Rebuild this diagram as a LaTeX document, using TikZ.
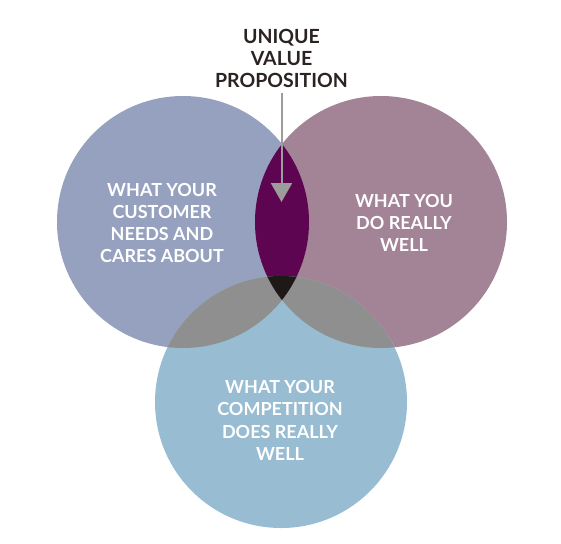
\documentclass[tikz,border=0pt]{standalone}
\usepackage{fontspec}
\newfontfamily\lato{Lato}
\usepackage{tikz}
\usetikzlibrary{arrows.meta}

\definecolor{custblue}{HTML}{96A1BF}
\definecolor{wellmauve}{HTML}{A38396}
\definecolor{compblue}{HTML}{98BCD1}
\definecolor{uvpplum}{HTML}{5D0550}
\definecolor{overgray}{HTML}{8F8F8F}
\definecolor{coreblack}{HTML}{1E1816}
\definecolor{arrgray}{HTML}{9C9C9C}
\definecolor{titleink}{HTML}{2B2321}

\tikzset{
  circtext/.style={align=center, text=white, inner sep=0pt,
    font=\lato\bfseries\fontsize{18}{22.2}\selectfont},
  titletext/.style={align=center, text=titleink, inner sep=0pt,
    font=\lato\bfseries\fontsize{19.5}{22}\selectfont},
  uvparrow/.style={arrgray, line width=2pt, -{Triangle[width=21pt,length=19pt]}}
}

\begin{document}
\begin{tikzpicture}[x=1pt,y=-1pt]

\useasboundingbox (0,0) rectangle (561,543);

\def\crad{126pt}
\coordinate (cl) at (183,222);
\coordinate (cr) at (381,222);
\coordinate (cb) at (281,402);

\fill [custblue] (cl) circle [radius=\crad];
\fill [wellmauve] (cr) circle [radius=\crad];
\fill [compblue] (cb) circle [radius=\crad];

%overlaps
\begin{scope}
\clip (cl) circle [radius=\crad];
\fill [uvpplum] (cr) circle [radius=\crad];
\fill [overgray] (cb) circle [radius=\crad];
\clip (cr) circle [radius=\crad];
\fill [coreblack] (cb) circle [radius=\crad];
\end{scope}
\begin{scope}
\clip (cr) circle [radius=\crad];
\clip (cb) circle [radius=\crad];
\fill [overgray] (cb) circle [radius=\crad];
\clip (cl) circle [radius=\crad];
\fill [coreblack] (cb) circle [radius=\crad];
\end{scope}

\node [titletext] (uvp) at (281.5,58) {UNIQUE\\VALUE\\PROPOSITION};
\coordinate (tip) at (281.5,202);
\draw [uvparrow, shorten <=6pt] (uvp) -- (tip);

\node [circtext] (cust) at (162,223) {WHAT YOUR\\CUSTOMER\\NEEDS AND\\CARES ABOUT};
\node [circtext] (well) at (404,223) {WHAT YOU\\DO REALLY\\WELL};
\node [circtext] (comp) at (280,420.5) {WHAT YOUR\\COMPETITION\\DOES REALLY\\WELL};

\end{tikzpicture}
\end{document}
